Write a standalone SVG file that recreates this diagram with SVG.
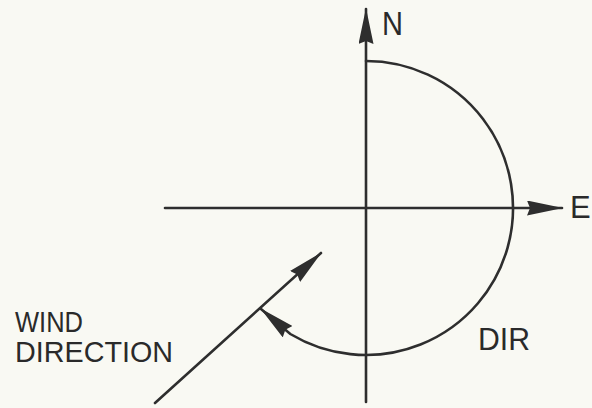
<svg xmlns="http://www.w3.org/2000/svg" width="592" height="408" viewBox="0 0 592 408">
<style>
.ln{fill:none;stroke:#2e2e2e;stroke-width:2.6;stroke-linecap:round}
.t{font-family:"Liberation Sans",Arial,sans-serif;fill:#2a2a2a}
</style>
<defs>
<marker id="ah" viewBox="0 0 36 15" refX="35" refY="7.5" markerWidth="36" markerHeight="15" markerUnits="userSpaceOnUse" orient="auto">
<path d="M0,0 L36,7.5 L0,15 L3,7.5 Z" fill="#2e2e2e"/>
</marker>
</defs>
<rect width="592" height="408" fill="#f9f9f3"/>
<g id="connectors">
<path id="axis-ns" class="ln" d="M366,402 L366,9" marker-end="url(#ah)"/>
<path id="axis-ew" class="ln" d="M165,208 L562,208" marker-end="url(#ah)"/>
<path id="dir-arc" class="ln" d="M366,61 A147,147 0 1 1 290.3,334 L261,309" marker-end="url(#ah)"/>
<path id="wind-line" class="ln" d="M155,403 L321,253" marker-end="url(#ah)"/>
</g>
<g id="label-n"><text class="t" x="382" y="35" font-size="34" textLength="21" lengthAdjust="spacingAndGlyphs">N</text></g>
<g id="label-e"><text class="t" x="570" y="218" font-size="31">E</text></g>
<g id="label-dir"><text class="t" x="478" y="350" font-size="32" textLength="52" lengthAdjust="spacingAndGlyphs">DIR</text></g>
<g id="label-wind">
<text class="t" x="15" y="332" font-size="29" textLength="68" lengthAdjust="spacingAndGlyphs">WIND</text>
<text class="t" x="15" y="362" font-size="29" textLength="158" lengthAdjust="spacingAndGlyphs">DIRECTION</text>
</g>
</svg>
